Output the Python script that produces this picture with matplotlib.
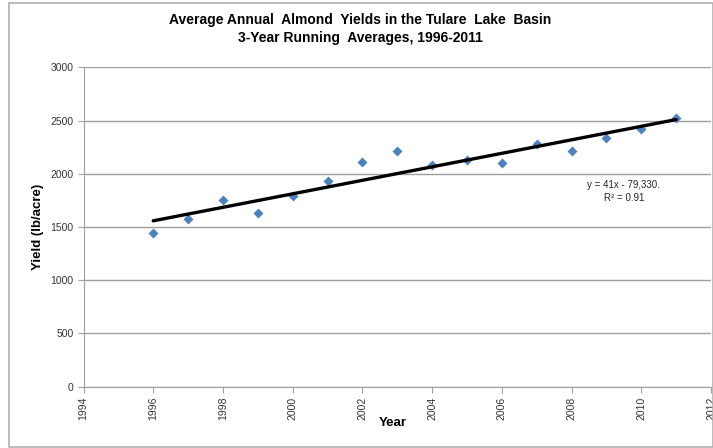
import matplotlib
matplotlib.use("Agg")
import matplotlib.pyplot as plt
from matplotlib.patches import Rectangle
import numpy as np

years = [1996, 1997, 1998, 1999, 2000, 2001, 2002, 2003,
         2004, 2005, 2006, 2007, 2008, 2009, 2010, 2011]
yields = [1441, 1572, 1753, 1631, 1794, 1929, 2113, 2214,
          2082, 2129, 2104, 2280, 2217, 2339, 2418, 2521]
x_ticks = list(range(1994, 2013, 2))
y_ticks = list(range(0, 3001, 500))
title = "Average Annual  Almond  Yields in the Tulare  Lake  Basin\n3-Year Running  Averages, 1996-2011"
eq_text = "y = 41x - 79,330.\nR² = 0.91"

plt.rcParams['font.family'] = ['Liberation Sans', 'DejaVu Sans']

W, H = 713, 448
fig = plt.figure(figsize=(W / 100, H / 100), dpi=100)
left, right, top, bottom = 83.5, 711, 67.3, 386.7
ax = fig.add_axes([left / W, 1 - bottom / H, (right - left) / W, (bottom - top) / H])

ax.scatter(years, yields, marker='D', s=26, color='#4F81BD', zorder=3, linewidths=0)
coef = np.polyfit(years, yields, 1)
xs = np.array([years[0], years[-1]])
ax.plot(xs, np.polyval(coef, xs), color='black', lw=2.4, zorder=4, solid_capstyle='round')

ax.set_xlim(1994, 2012)
ax.set_ylim(0, 3000)
ax.set_xticks(x_ticks)
ax.set_yticks(y_ticks)
ax.set_xticklabels([str(t) for t in x_ticks], rotation=90, fontsize=7.5, color='#333333')
ax.set_yticklabels([str(t) for t in y_ticks], fontsize=7.5, color='#333333')
ax.grid(axis='y', color='#A0A0A0', lw=1)
ax.set_axisbelow(True)
for s in ['top', 'right']:
    ax.spines[s].set_visible(False)
for s in ['left', 'bottom']:
    ax.spines[s].set_color('#A0A0A0')
ax.tick_params(axis='x', direction='out', length=4, color='#A0A0A0', pad=3)
ax.tick_params(axis='y', direction='out', length=4, color='#A0A0A0', pad=3)

ax.set_xlabel("Year", fontsize=9.5, fontweight='bold')
ax.xaxis.set_label_coords((393 - left) / (right - left), -(417 - bottom) / (bottom - top))
ax.set_ylabel("Yield (lb/acre)", fontsize=9.5, fontweight='bold')
ax.yaxis.set_label_coords(-(left - 44) / (right - left), 0.5)

ax.text(2009.5, 1940, eq_text, fontsize=7, ha='center', va='top', linespacing=1.4, color='#222222')

fig.text(360 / W, 1 - 29 / H, title, fontsize=10, fontweight='bold', ha='center', va='center', linespacing=1.45)

fig.patches.append(Rectangle((9 / W, 1 - 446.5 / H), (W - 9) / W, (446.5 - 3) / H,
                             transform=fig.transFigure, fill=False, edgecolor='#B0B0B0', lw=1.2))

fig.savefig("out.png", dpi=100)
